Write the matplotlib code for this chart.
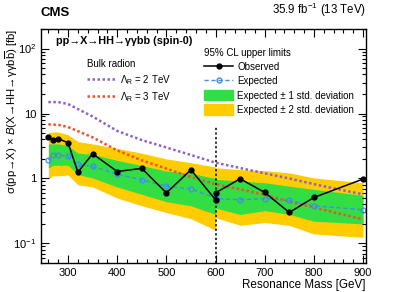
import matplotlib
matplotlib.use("Agg")
import matplotlib.pyplot as plt
import numpy as np
from matplotlib.patches import Patch
from matplotlib.lines import Line2D
from matplotlib.ticker import MultipleLocator, LogLocator, FixedLocator, NullFormatter

plt.rcParams['font.family'] = ['Liberation Sans', 'DejaVu Sans']
plt.rcParams['mathtext.fontset'] = 'custom'
plt.rcParams['mathtext.rm'] = 'Liberation Sans'
plt.rcParams['mathtext.it'] = 'Liberation Sans:italic'
plt.rcParams['mathtext.bf'] = 'Liberation Sans:bold'

# low-mass region (260-600) and high-mass region (600-900)
mass_lo = [260, 270, 280, 300, 320, 350, 400, 450, 500, 550, 600]
obs_lo = [4.34, 3.94, 4.10, 3.55, 1.25, 2.40, 1.28, 1.43, 0.60, 1.36, 0.47]
exp_lo = [1.95, 2.28, 2.28, 2.20, 1.65, 1.53, 1.17, 0.95, 0.76, 0.69, 0.50]
p2_lo = [5.1, 5.2, 5.2, 4.7, 3.7, 3.4, 2.9, 2.45, 2.0, 1.75, 1.5]
p1_lo = [3.4, 3.4, 3.4, 3.2, 2.45, 2.35, 1.9, 1.58, 1.3, 1.2, 1.0]
m1_lo = [1.45, 1.6, 1.6, 1.6, 1.15, 1.02, 0.74, 0.57, 0.44, 0.38, 0.28]
m2_lo = [1.0, 1.1, 1.1, 1.13, 0.8, 0.74, 0.5, 0.38, 0.30, 0.24, 0.16]

mass_hi = [600, 650, 700, 750, 800, 900]
obs_hi = [0.60, 0.99, 0.61, 0.30, 0.51, 0.98]
exp_hi = [0.49, 0.47, 0.49, 0.46, 0.38, 0.33]
p2_hi = [1.46, 1.37, 1.32, 1.22, 1.02, 0.86]
p1_hi = [0.97, 0.91, 0.86, 0.76, 0.68, 0.55]
m1_hi = [0.35, 0.28, 0.32, 0.28, 0.22, 0.20]
m2_hi = [0.25, 0.19, 0.21, 0.19, 0.14, 0.124]

# bulk radion theory curves
th_mass = [260, 280, 300, 350, 400, 450, 500, 550, 600, 650, 700, 750, 800, 850, 900]
th_2tev = [15.0, 15.0, 14.0, 9.0, 5.4, 3.9, 3.0, 2.3, 1.75, 1.45, 1.2, 1.0, 0.82, 0.68, 0.57]
th_3tev = [6.8, 6.7, 6.2, 4.3, 2.7, 1.9, 1.42, 1.05, 0.82, 0.68, 0.56, 0.44, 0.36, 0.29, 0.235]

green = '#33dd44'
yellow = '#ffcc00'
blue = '#3f8fe6'
purple = '#8e62c8'
red = '#f0502a'

fig = plt.figure(figsize=(4.07, 2.92), dpi=100)
ax = fig.add_axes([0.1007, 0.0993, 0.7985, 0.8014])

for m, p2, m2, p1, m1 in [(mass_lo, p2_lo, m2_lo, p1_lo, m1_lo),
                          (mass_hi, p2_hi, m2_hi, p1_hi, m1_hi)]:
    ax.fill_between(m, m2, p2, color=yellow, lw=0)
    ax.fill_between(m, m1, p1, color=green, lw=0)

ax.plot(th_mass, th_2tev, ls=(0, (1, 1)), color=purple, lw=1.8)
ax.plot(th_mass, th_3tev, ls=(0, (1, 1)), color=red, lw=1.8)

ax.plot(mass_lo + mass_hi, exp_lo + exp_hi, ls=(0, (3, 2)), color=blue, lw=1.0,
        marker='o', ms=3.5, mfc='none', mec=blue, mew=0.9)
ax.plot(mass_lo + mass_hi, obs_lo + obs_hi, color='black', lw=1.1,
        marker='o', ms=3.5)

ax.axvline(600, ymin=0, ymax=0.58, color='black', ls=(0, (1.5, 1.5)), lw=1.1)

ax.set_yscale('log')
ax.set_xlim(245, 906)
ax.set_ylim(0.05, 200)

ax.xaxis.set_major_locator(MultipleLocator(100))
ax.xaxis.set_minor_locator(MultipleLocator(20))
ax.yaxis.set_major_locator(FixedLocator([0.1, 1, 10, 100]))
ax.set_yticklabels(['10$^{-1}$', '1', '10', '10$^{2}$'])
ax.yaxis.set_minor_locator(LogLocator(base=10, subs=np.arange(2, 10)))
ax.yaxis.set_minor_formatter(NullFormatter())
ax.tick_params(which='both', direction='in', top=True, right=True, labelsize=8)
ax.tick_params(which='major', length=6, width=0.8)
ax.tick_params(which='minor', length=3, width=0.8)
for s in ax.spines.values():
    s.set_linewidth(1.0)

ax.set_xlabel('Resonance Mass [GeV]', fontsize=8.4, loc='right', labelpad=1)
ax.set_ylabel(r'σ(pp→X) × $\mathit{B}$(X→HH→γγb$\overline{\mathrm{b}}$) [fb]',
              fontsize=8.2, loc='top')
ax.yaxis.set_label_coords(-0.066, 1.0)

fig.text(0.1007, 0.935, 'CMS', fontsize=9.5, fontweight='bold', ha='left', va='bottom')
fig.text(0.899, 0.935, '35.9 fb$^{-1}$ (13 TeV)', fontsize=8.3, ha='right', va='bottom')
ax.text(0.045, 0.95, 'pp→X→HH→γγbb (spin-0)', transform=ax.transAxes,
        fontsize=7.8, fontweight='bold', ha='left', va='center')

h_right = [Line2D([], [], color='black', lw=1.1, marker='o', ms=3.5),
           Line2D([], [], color=blue, ls=(0, (3, 2)), lw=1.0, marker='o', ms=3.5,
                  mfc='none', mec=blue),
           Patch(color=green), Patch(color=yellow)]
l_right = ['Observed', 'Expected', 'Expected ± 1 std. deviation', 'Expected ± 2 std. deviation']
leg1 = ax.legend(h_right, l_right, title='95% CL upper limits', loc='upper left',
                 bbox_to_anchor=(0.485, 0.945), frameon=False, fontsize=7,
                 title_fontsize=7, alignment='left', handlelength=2.9,
                 handleheight=1.25, labelspacing=0.4, handletextpad=0.5,
                 borderpad=0.1)
ax.add_artist(leg1)

h_left = [Line2D([], [], color=purple, ls=(0, (1, 1)), lw=1.8),
          Line2D([], [], color=red, ls=(0, (1, 1)), lw=1.8)]
l_left = [r'$\Lambda_{\mathrm{R}}$ = 2 TeV', r'$\Lambda_{\mathrm{R}}$ = 3 TeV']
ax.legend(h_left, l_left, title='Bulk radion', loc='upper left',
          bbox_to_anchor=(0.125, 0.895), frameon=False, fontsize=7,
          title_fontsize=7, alignment='left', handlelength=2.9,
          handleheight=1.15, labelspacing=0.35, handletextpad=0.5, borderpad=0.1)

fig.savefig('out.png', dpi=100)
